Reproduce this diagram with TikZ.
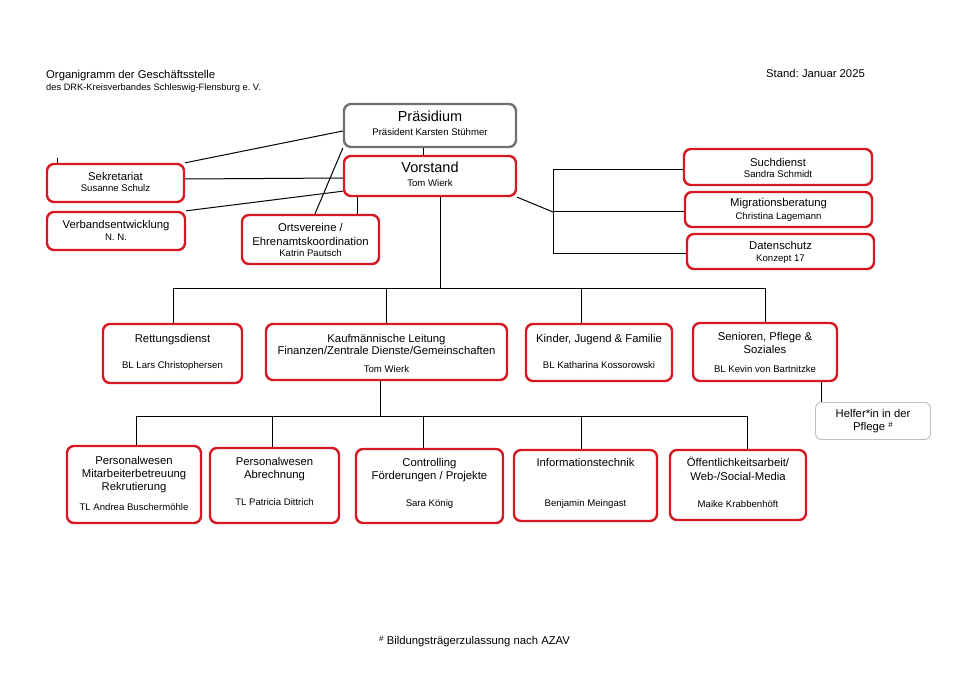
\documentclass[tikz,border=0pt]{standalone}
\usepackage{fontspec}
\setmainfont{Liberation Sans}
\AtBeginDocument{\frenchspacing}
\definecolor{drkred}{RGB}{214,24,34}
\definecolor{frgray}{RGB}{112,112,112}
\definecolor{ltgray}{RGB}{190,190,190}
\tikzset{
  rbox/.style={draw=drkred, line width=2.4pt, rounded corners=7pt, fill=white, inner sep=0pt},
  gbox/.style={rbox, draw=frgray},
  lbox/.style={draw=ltgray, line width=0.9pt, rounded corners=6pt, fill=white, inner sep=0pt},
  txt/.style={inner sep=0pt, text height=0.72em, text depth=0pt, anchor=center},
  big/.style={txt, font=\fontsize{14.5}{16}\selectfont},
  mid/.style={txt, font=\fontsize{11.3}{13}\selectfont},
  sml/.style={txt, font=\fontsize{9.6}{11}\selectfont},
  conn/.style={draw=black, line width=1pt}
}
\begin{document}
\begin{tikzpicture}[x=1pt,y=-1pt]
\path[fill=white, use as bounding box] (0,0) rectangle (960,676);

% header texts
\node[mid, anchor=west] (h1) at (46,75) {Organigramm der Geschäftsstelle};
\node[txt, anchor=west, font=\fontsize{9.3}{11}\selectfont] (h2) at (46,87) {des DRK-Kreisverbandes Schleswig-Flensburg e. V.};
\node[mid, anchor=west] (h3) at (766,74) {Stand: Januar 2025};
\node[mid, anchor=west] (ft) at (379,641) {\raisebox{3.5pt}{\fontsize{8}{9}\selectfont\#} Bildungsträgerzulassung nach AZAV};

% boxes
\node[gbox, minimum width=172pt, minimum height=43pt] (pra) at (430,125.5) {};
\node[rbox, minimum width=172pt, minimum height=40pt] (vor) at (430,176) {};
\node[rbox, minimum width=137pt, minimum height=38pt] (sek) at (115.5,183) {};
\node[rbox, minimum width=138pt, minimum height=38pt] (verb) at (116,231) {};
\node[rbox, minimum width=137pt, minimum height=49pt] (ort) at (310.5,239.5) {};
\node[rbox, minimum width=188pt, minimum height=36pt] (such) at (778,167) {};
\node[rbox, minimum width=187pt, minimum height=35pt] (mig) at (778.5,209.5) {};
\node[rbox, minimum width=187pt, minimum height=35pt] (dat) at (780.5,251.5) {};
\node[rbox, minimum width=139pt, minimum height=59pt] (ret) at (172.5,353.5) {};
\node[rbox, minimum width=241pt, minimum height=56pt] (kauf) at (386.5,352) {};
\node[rbox, minimum width=146pt, minimum height=57pt] (kind) at (599,352.5) {};
\node[rbox, minimum width=144pt, minimum height=58pt] (sen) at (765,352) {};
\node[lbox, minimum width=115pt, minimum height=37pt] (hel) at (873,421) {};
\node[rbox, minimum width=134pt, minimum height=77pt] (pm) at (134,484.5) {};
\node[rbox, minimum width=129pt, minimum height=75pt] (pa) at (274.5,485.5) {};
\node[rbox, minimum width=147pt, minimum height=74pt] (con) at (429.5,486) {};
\node[rbox, minimum width=143pt, minimum height=71pt] (inf) at (585.5,485.5) {};
\node[rbox, minimum width=136pt, minimum height=70pt] (oef) at (738,485) {};

% connectors: top area
\coordinate (pv) at (423,0);
\draw[conn] (pra.south -| pv) -- (vor.north -| pv);
\draw[conn] (sek.north east) -- ([yshift=-5.5pt]pra.west);
\draw[conn] ([yshift=4pt]sek.east) -- ([yshift=-2pt]vor.west);
\draw[conn] (verb.north east) -- ([yshift=6pt]vor.south west);
\draw[conn] ([xshift=4.5pt]ort.north) -- (pra.south west);
\coordinate (ov) at (357,0);
\draw[conn] (vor.south -| ov) -- (ort.north -| ov);
\coordinate (tk) at (57,158);
\draw[conn] (tk) -- (tk |- sek.north);

% right group
\coordinate (r1) at (553,170);
\coordinate (r2) at (553,212);
\coordinate (r3) at (553,253);
\draw[conn] (r1) -- (r3);
\draw[conn] (r1) -- (r1 -| such.west);
\draw[conn] (r2) -- (r2 -| mig.west);
\draw[conn] (r3) -- (r3 -| dat.west);
\draw[conn] (vor.south east) -- (r2);

% upper bus
\coordinate (u0) at (440,288);
\coordinate (uL) at (173,288);
\coordinate (uR) at (765,288);
\coordinate (u2) at (386,288);
\coordinate (u3) at (581,288);
\draw[conn] (vor.south -| u0) -- (u0);
\draw[conn] (uL) -- (uR);
\draw[conn] (uL) -- (uL |- ret.north);
\draw[conn] (u2) -- (u2 |- kauf.north);
\draw[conn] (u3) -- (u3 |- kind.north);
\draw[conn] (uR) -- (uR |- sen.north);
\coordinate (hv) at (821,0);
\draw[conn] (sen.south -| hv) -- (hel.north -| hv);

% lower bus
\coordinate (l0) at (380,416);
\coordinate (lL) at (136,416);
\coordinate (lR) at (747,416);
\coordinate (l2) at (272,416);
\coordinate (l3) at (423,416);
\coordinate (l4) at (581,416);
\draw[conn] (kauf.south -| l0) -- (l0);
\draw[conn] (lL) -- (lR);
\draw[conn] (lL) -- (lL |- pm.north);
\draw[conn] (l2) -- (l2 |- pa.north);
\draw[conn] (l3) -- (l3 |- con.north);
\draw[conn] (l4) -- (l4 |- inf.north);
\draw[conn] (lR) -- (lR |- oef.north);

% texts
\node[big] (pra1) at (430,118) {Präsidium};
\node[sml] (pra2) at (430,132) {Präsident Karsten Stühmer};
\node[big] (vor1) at (430,169) {Vorstand};
\node[sml] (vor2) at (430,183) {Tom Wierk};
\node[mid] (sek1) at (115.5,177) {Sekretariat};
\node[sml] (sek2) at (115.5,188) {Susanne Schulz};
\node[mid] (verb1) at (116,225) {Verbandsentwicklung};
\node[sml] (verb2) at (116,237) {N. N.};
\node[mid] (ort1) at (310.5,228) {Ortsvereine /};
\node[mid] (ort2) at (310.5,242) {Ehrenamtskoordination};
\node[sml] (ort3) at (310.5,253) {Katrin Pautsch};
\node[mid] (such1) at (778,163) {Suchdienst};
\node[sml] (such2) at (778,174) {Sandra Schmidt};
\node[mid] (mig1) at (778.5,203) {Migrationsberatung};
\node[sml] (mig2) at (778.5,216) {Christina Lagemann};
\node[mid] (dat1) at (780.5,246) {Datenschutz};
\node[sml] (dat2) at (780.5,258) {Konzept 17};
\node[mid] (ret1) at (172.5,339) {Rettungsdienst};
\node[sml] (ret2) at (172.5,365) {BL Lars Christophersen};
\node[mid] (kauf1) at (386.5,339) {Kaufmännische Leitung};
\node[mid] (kauf2) at (386.5,351) {Finanzen/Zentrale Dienste/Gemeinschaften};
\node[sml] (kauf3) at (386.5,369) {Tom Wierk};
\node[mid] (kind1) at (599,339) {Kinder, Jugend \& Familie};
\node[sml] (kind2) at (599,365) {BL Katharina Kossorowski};
\node[mid] (sen1) at (765,337) {Senioren, Pflege \&};
\node[mid] (sen2) at (765,350) {Soziales};
\node[sml] (sen3) at (765,369) {BL Kevin von Bartnitzke};
\node[mid] (hel1) at (873,414) {Helfer*in in der};
\node[mid] (hel2) at (873,427) {Pflege \raisebox{3.5pt}{\fontsize{8}{9}\selectfont\#}};
\node[mid] (pm1) at (134,461) {Personalwesen};
\node[mid] (pm2) at (134,474) {Mitarbeiterbetreuung};
\node[mid] (pm3) at (134,487) {Rekrutierung};
\node[sml] (pm4) at (134,507) {TL Andrea Buschermöhle};
\node[mid] (pa1) at (274.5,462) {Personalwesen};
\node[mid] (pa2) at (274.5,475) {Abrechnung};
\node[sml] (pa3) at (274.5,502) {TL Patricia Dittrich};
\node[mid] (con1) at (429.5,463) {Controlling};
\node[mid] (con2) at (429.5,476) {Förderungen / Projekte};
\node[sml] (con3) at (429.5,503) {Sara König};
\node[mid] (inf1) at (585.5,463) {Informationstechnik};
\node[sml] (inf2) at (585.5,503) {Benjamin Meingast};
\node[mid] (oef1) at (738,463) {Öffentlichkeitsarbeit/};
\node[mid] (oef2) at (738,477) {Web-/Social-Media};
\node[sml] (oef3) at (738,504) {Maike Krabbenhöft};
\end{tikzpicture}
\end{document}
